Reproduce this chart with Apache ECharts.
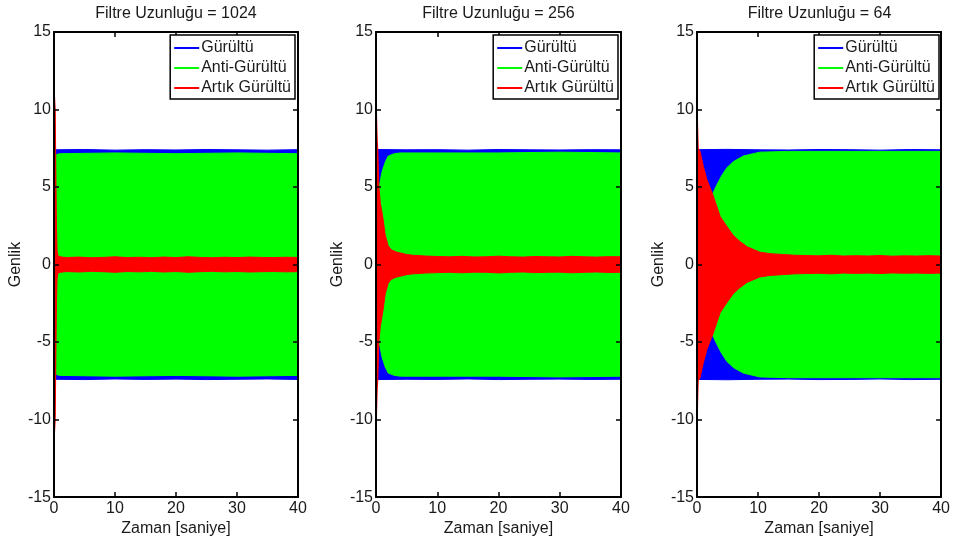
<!DOCTYPE html>
<html>
<head>
<meta charset="utf-8">
<title>Filtre Uzunluğu</title>
<script src="https://cdn.jsdelivr.net/npm/echarts@6/dist/echarts.min.js"></script>
<style>
  html, body { margin: 0; padding: 0; background: #fff; }
  #chart { width: 953px; height: 542px; }
</style>
</head>
<body>
<div id="chart"></div>
<script>
// Envelope (peak amplitude) of each dense signal, sampled in time [s].
// Each band is drawn symmetric about zero: +env and -env.

const filterLengths = [1024, 256, 64];
const seriesNames = ['Gürültü', 'Anti-Gürültü', 'Artık Gürültü'];
const xTicks = [0, 10, 20, 30, 40];
const yTicks = [-15, -10, -5, 0, 5, 10, 15];

// Noise (Gürültü)
const tNoise = [0, 5, 10, 15, 20, 25, 30, 35, 40];
const noise1024 = [7.40, 7.42, 7.38, 7.41, 7.39, 7.42, 7.40, 7.38, 7.41];
const noise256 = [7.42, 7.40, 7.41, 7.38, 7.42, 7.40, 7.39, 7.41, 7.40];
const noise64 = [7.41, 7.43, 7.40, 7.39, 7.42, 7.41, 7.38, 7.42, 7.40];

// Anti-noise (Anti-Gürültü)
const tAnti1024 = [0, 0.1, 0.2, 0.4, 1, 10, 20, 30, 40];
const anti1024 = [0, 3.5, 6.6, 7.1, 7.15, 7.2, 7.15, 7.2, 7.15];
const tAnti256 = [0, 0.2, 0.5, 1, 1.5, 2, 3, 4, 10, 20, 30, 40];
const anti256 = [0, 2.5, 5.0, 6.0, 6.6, 7.0, 7.15, 7.2, 7.2, 7.2, 7.25, 7.2];
const tAnti64 = [0, 1, 2, 2.5, 3.2, 4, 4.9, 6, 7.6, 10.3, 15, 20, 30, 40];
const anti64 = [0, 2.2, 3.9, 4.5, 5.1, 5.7, 6.25, 6.65, 7.0, 7.25, 7.3, 7.3, 7.3, 7.3];

// Residual noise (Artık Gürültü)
const tRes1024 = [0, 0.2, 0.3, 0.4, 0.5, 0.65, 1, 2, 4, 6, 8, 10, 12, 14, 16, 18, 20, 22, 24, 26, 28, 30, 32, 34, 36, 38, 40];
const res1024 = [11.5, 10.0, 6.0, 2.5, 0.9, 0.55, 0.5, 0.45, 0.48, 0.44, 0.46, 0.5, 0.45, 0.47, 0.44, 0.48, 0.45, 0.5, 0.46, 0.44, 0.47, 0.45, 0.48, 0.46, 0.45, 0.47, 0.46];
const tRes256 = [0, 0.1, 0.2, 0.3, 0.45, 0.7, 1.15, 1.5, 2, 2.5, 3.4, 5, 6, 8, 10, 12, 14, 16, 18, 20, 22, 24, 26, 28, 30, 32, 34, 36, 38, 40];
const res256 = [11.5, 9.5, 8.0, 7.4, 5.1, 4.0, 2.95, 1.9, 1.2, 0.95, 0.8, 0.65, 0.6, 0.55, 0.52, 0.5, 0.53, 0.49, 0.5, 0.54, 0.5, 0.48, 0.52, 0.5, 0.49, 0.53, 0.5, 0.48, 0.51, 0.5];
const tRes64 = [0, 0.1, 0.2, 0.5, 1, 1.6, 2.6, 3.8, 5, 5.9, 7, 8.2, 10.3, 12, 14, 16, 18, 20, 22, 24, 26, 28, 30, 32, 34, 36, 38, 40];
const res64 = [11.5, 9.0, 7.5, 7.3, 6.4, 5.5, 4.5, 3.1, 2.4, 1.9, 1.5, 1.15, 0.8, 0.7, 0.65, 0.6, 0.58, 0.56, 0.6, 0.55, 0.57, 0.55, 0.58, 0.54, 0.56, 0.55, 0.57, 0.55];

const panels = [
  { noise: [tNoise, noise1024], anti: [tAnti1024, anti1024], res: [tRes1024, res1024] },
  { noise: [tNoise, noise256], anti: [tAnti256, anti256], res: [tRes256, res256] },
  { noise: [tNoise, noise64], anti: [tAnti64, anti64], res: [tRes64, res64] }
];

const colors = ['#0000ff', '#00ff00', '#ff0000'];
const FONT = "'Liberation Sans', Arial, sans-serif";
const TEXT = '#1a1a1a';

// plot-area placement for the three panels
const gridLeft = [54, 376, 697];
const gridWidth = [244, 245, 245];
const gridTop = 32, gridHeight = 468;

const grids = [], xAxes = [], yAxes = [], series = [], legends = [], graphics = [];

// one filled band (upper and lower half) per signal; later signals sit on top.
// The two halves overlap slightly across zero so no seam shows between them.
function bandSeries(name, color, ts, vs, g, layer) {
  const common = {
    name, type: 'line', xAxisIndex: 2 * g, yAxisIndex: 2 * g, z: 2 + layer,
    symbol: 'none', showSymbol: false, smooth: false, silent: true,
    lineStyle: { color, width: 1 }, itemStyle: { color }, animation: false
  };
  return [
    Object.assign({}, common, {
      areaStyle: { color, opacity: 1, origin: -0.2 },
      data: ts.map((t, i) => [t, vs[i]])
    }),
    Object.assign({}, common, {
      areaStyle: { color, opacity: 1, origin: 0.2 },
      data: ts.map((t, i) => [t, -vs[i]])
    })
  ];
}

const axisLineStyle = { onZero: false, lineStyle: { color: '#000', width: 2 } };
const tickStyle = { inside: true, length: 5, lineStyle: { color: '#000', width: 1.5 } };

panels.forEach((p, g) => {
  grids.push({ left: gridLeft[g], top: gridTop, width: gridWidth[g], height: gridHeight });

  const xBase = { type: 'value', gridIndex: g, min: xTicks[0], max: xTicks[xTicks.length - 1], interval: 10, z: 10,
    axisLine: axisLineStyle, splitLine: { show: false }, axisTick: tickStyle };
  xAxes.push(Object.assign({}, xBase, {
    position: 'bottom',
    axisLabel: { color: TEXT, fontSize: 16, fontFamily: FONT, margin: 3 },
    name: 'Zaman [saniye]', nameLocation: 'middle', nameGap: 22,
    nameTextStyle: { color: TEXT, fontSize: 16, fontFamily: FONT }
  }));
  xAxes.push(Object.assign({}, xBase, { position: 'top', axisLabel: { show: false } }));

  const yBase = { type: 'value', gridIndex: g, min: yTicks[0], max: yTicks[yTicks.length - 1], interval: 5, z: 10,
    axisLine: axisLineStyle, splitLine: { show: false }, axisTick: tickStyle };
  yAxes.push(Object.assign({}, yBase, {
    position: 'left',
    axisLabel: { color: TEXT, fontSize: 16, fontFamily: FONT, margin: 3 },
    name: 'Genlik', nameLocation: 'middle', nameGap: 25, nameRotate: 90,
    nameTextStyle: { color: TEXT, fontSize: 16, fontFamily: FONT }
  }));
  yAxes.push(Object.assign({}, yBase, { position: 'right', axisLabel: { show: false } }));

  series.push(...bandSeries(seriesNames[0], colors[0], p.noise[0], p.noise[1], g, 0));
  series.push(...bandSeries(seriesNames[1], colors[1], p.anti[0], p.anti[1], g, 1));
  series.push(...bandSeries(seriesNames[2], colors[2], p.res[0], p.res[1], g, 2));

  legends.push({
    data: seriesNames, orient: 'vertical',
    right: 953 - (gridLeft[g] + gridWidth[g]) + 3, top: 35, z: 20,
    icon: 'rect', itemWidth: 25, itemHeight: 2, itemGap: 4,
    padding: [5, 4, 3, 4], backgroundColor: '#fff',
    borderColor: '#000', borderWidth: 1.5, borderRadius: 0,
    selectedMode: false,
    textStyle: { color: TEXT, fontSize: 16, fontFamily: FONT, padding: [0, 0, 0, -3] }
  });

  graphics.push({
    type: 'text', x: gridLeft[g] + gridWidth[g] / 2, y: 14,
    style: { text: 'Filtre Uzunluğu = ' + filterLengths[g], fill: TEXT, font: '16px ' + FONT,
      textAlign: 'center', textVerticalAlign: 'middle' }
  });
});

const chart = echarts.init(document.getElementById('chart'), null, { renderer: 'canvas' });
chart.setOption({
  animation: false,
  backgroundColor: '#fff',
  grid: grids, xAxis: xAxes, yAxis: yAxes, series, legend: legends,
  graphic: graphics
});
</script>
</body>
</html>
